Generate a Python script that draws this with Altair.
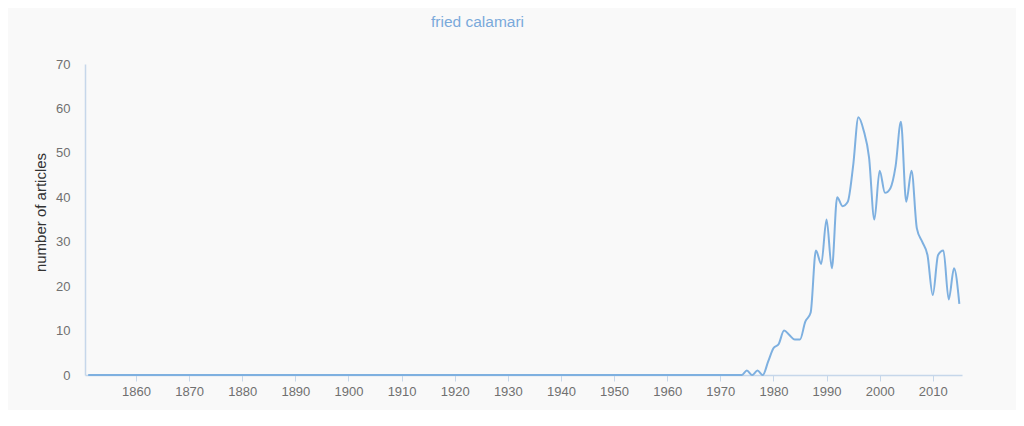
import altair as alt
import pandas as pd

# Years of the series
years = list(range(1851, 2016))
# Number of articles per year (1851-1974 read as zero)
zeros_before_1975 = [0] * 124
counts_1975_2015 = [1, 0, 1, 0, 3, 6, 7, 10, 9, 8,
                    8, 12, 14, 28, 25, 35, 24, 40, 38, 39,
                    47, 58, 55, 49, 35, 46, 41, 42, 47, 57,
                    39, 46, 33, 30, 27, 18, 27, 28, 17, 24,
                    16]
counts = zeros_before_1975 + counts_1975_2015
x_ticks = [1860, 1870, 1880, 1890, 1900, 1910, 1920, 1930, 1940, 1950, 1960, 1970, 1980, 1990, 2000, 2010]
y_ticks = [0, 10, 20, 30, 40, 50, 60, 70]

df = pd.DataFrame({"year": years, "count": counts})

axis_color = "#c6d7ea"
label_color = "#707070"

chart = alt.Chart(df).mark_line(
    interpolate="monotone", color="#7eb0e0", strokeWidth=2
).encode(
    x=alt.X("year:Q",
            scale=alt.Scale(domain=[1850.4, 2015.5], nice=False, zero=False),
            axis=alt.Axis(values=x_ticks, format="d", title=None, grid=False,
                          domainColor=axis_color, domainWidth=1.5,
                          tickColor=axis_color, tickSize=6,
                          labelColor=label_color, labelFontSize=13,
                          labelFont="Liberation Sans", labelPadding=4)),
    y=alt.Y("count:Q",
            scale=alt.Scale(domain=[0, 70], nice=False),
            axis=alt.Axis(values=y_ticks, title="number of articles", grid=False,
                          domainColor=axis_color, domainWidth=1.5,
                          ticks=False, labelPadding=15,
                          labelColor=label_color, labelFontSize=13,
                          labelFont="Liberation Sans",
                          titleFont="Liberation Sans", titleFontSize=15,
                          titleFontWeight="normal", titleColor="#333333",
                          titleX=-40, titleY=148, titleAngle=-90,
                          titleAlign="center", titleBaseline="alphabetic")),
).properties(
    width=877,
    height=311,
    title=alt.TitleParams("fried calamari", anchor="start", dx=398, offset=16,
                          baseline="alphabetic", fontSize=15.5,
                          font="Liberation Sans", fontWeight="normal",
                          color="#7aa9db"),
    autosize=alt.AutoSizeParams(type="none"),
    padding={"left": 77, "top": 56, "right": 54, "bottom": 35},
    background="#f9f9f9",
).configure_view(stroke=None)

chart.save("out.html", embed_options={"renderer": "svg", "actions": False})
